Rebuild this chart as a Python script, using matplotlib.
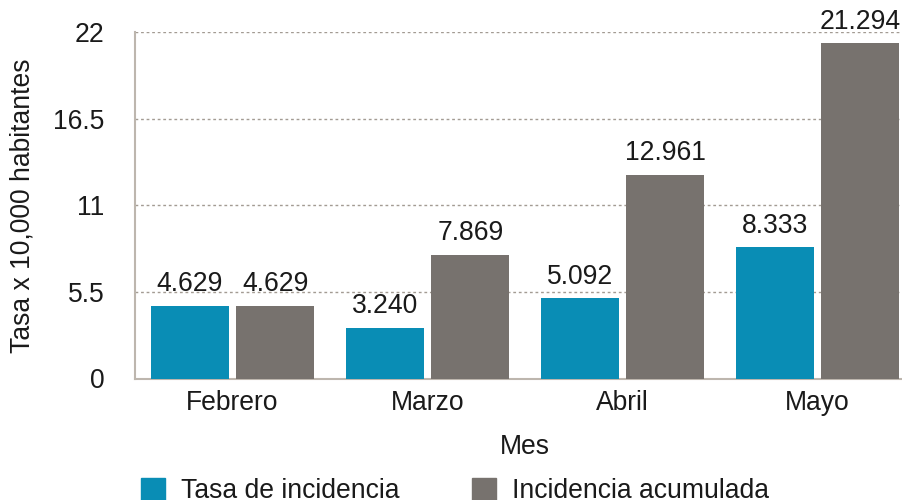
import matplotlib
matplotlib.use("Agg")
import matplotlib.pyplot as plt
import numpy as np
from matplotlib.patches import Patch

plt.rcParams.update({
    "font.family": ["Liberation Sans", "DejaVu Sans"],
    "font.size": 19.1,
    "text.color": "#1a1a1a",
    "axes.labelcolor": "#1a1a1a",
    "xtick.color": "#1a1a1a",
    "ytick.color": "#1a1a1a",
})

meses = ["Febrero", "Marzo", "Abril", "Mayo"]
tasa = [4.629, 3.240, 5.092, 8.333]
acumulada = [4.629, 7.869, 12.961, 21.294]
yticks = [0, 5.5, 11, 16.5, 22]
ytick_labels = ["0", "5.5", "11", "16.5", "22"]

TEAL = "#098db5"
GRAY = "#77726e"

fig = plt.figure(figsize=(9.02, 5.0), dpi=100)
ax = fig.add_axes([135 / 902, 1 - 378.5 / 500, 780 / 902, (378.5 - 32.3) / 500])

x = np.arange(len(meses))
w = 0.4
off = 0.22
b1 = ax.bar(x - off, tasa, w, color=TEAL, zorder=3)
b2 = ax.bar(x + off, acumulada, w, color=GRAY, zorder=3)

for bars, vals in ((b1, tasa), (b2, acumulada)):
    for rect, v in zip(bars, vals):
        ax.annotate(f"{v:.3f}", (rect.get_x() + rect.get_width() / 2, v),
                    xytext=(0, 6), textcoords="offset points",
                    ha="center", va="bottom", zorder=4)

ax.set_xlim(-0.5, 3.5)
ax.set_ylim(0, 22)
ax.set_yticks(yticks)
ax.set_yticklabels(ytick_labels)
ax.set_xticks(x)
ax.set_xticklabels(meses)
ax.tick_params(axis="both", length=0)
ax.tick_params(axis="y", pad=22)
ax.tick_params(axis="x", pad=8)

ax.yaxis.grid(True, ls=(0, (2, 2)), color="#a39b93", lw=1.0, zorder=0)
for s in ("top", "right"):
    ax.spines[s].set_visible(False)
for s in ("left", "bottom"):
    ax.spines[s].set_color("#bdb6ae")
    ax.spines[s].set_linewidth(1.5)

ax.set_xlabel("Mes", labelpad=13)
ax.set_ylabel("Tasa x 10,000 habitantes", labelpad=13)

handles = [Patch(color=TEAL), Patch(color=GRAY)]
fig.legend(handles, ["Tasa de incidencia", "Incidencia acumulada"],
           loc="upper left", bbox_to_anchor=(141 / 902, 1 - 478 / 500),
           ncol=2, frameon=False, borderpad=0, borderaxespad=0,
           handlelength=0.9, handleheight=0.9, handletextpad=0.6,
           columnspacing=2.75)

fig.savefig("out.png", dpi=100)
